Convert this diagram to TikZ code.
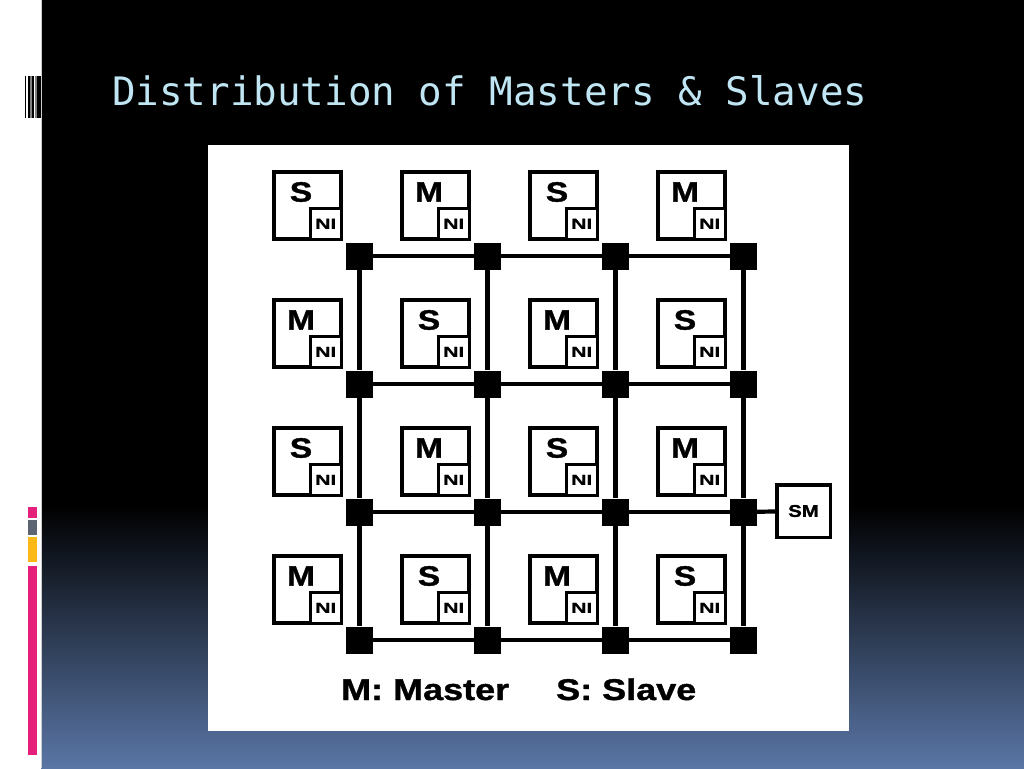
\documentclass[tikz,border=0pt]{standalone}
\usepackage{fontspec}
\setmainfont{Liberation Sans}
\newfontfamily\widefont[FakeStretch=1.2, BoldFeatures={FakeBold=1.2}]{Liberation Sans}
\newfontfamily\nifont[FakeStretch=1.45, BoldFeatures={FakeBold=1}]{Liberation Sans}
\newfontfamily\titlefont{DejaVu Sans Mono}
\usetikzlibrary{calc}
\definecolor{titleblue}{HTML}{C0E6F4}
\definecolor{slideblue}{HTML}{5A76A6}
\definecolor{barpink}{HTML}{E4207A}
\definecolor{bargray}{HTML}{5B6470}
\definecolor{baryellow}{HTML}{FBB917}
\tikzset{
  tilebox/.style={draw, line width=3.8pt, minimum size=67pt, inner sep=0pt},
  nibox/.style={draw, fill=white, line width=3.2pt, minimum size=31pt, inner sep=0pt,
    font=\nifont\bfseries\fontsize{14.5}{14.5}\selectfont},
  letter/.style={inner sep=0pt, font=\widefont\bfseries\fontsize{28}{28}\selectfont},
  router/.style={fill=black, minimum size=27pt, inner sep=0pt},
  link/.style={line width=4.2pt},
}
\begin{document}
\begin{tikzpicture}[x=1pt, y=-1pt]
  % Define the tile: name, centre, role letter
  \def\tile#1(#2,#3)#4{
    \node[tilebox] (t#1) at (#2,#3) {};
    \node[nibox, anchor=south east] (ni#1) at (t#1.south east) {NI};
    \node[letter] (l#1) at ($(t#1.center)+(-6.5,-13.5)$) {#4};
  }

  % Draw the slide background
  \useasboundingbox (0,0) rectangle (1024,768);
  \fill[white] (0,0) rectangle (41,768);
  \fill[black] (41,0) rectangle (1024,506);
  \shade[top color=black, bottom color=slideblue] (41,505) rectangle (1024,768);
  \draw[gray!40, line width=0.8pt] (41,0) -- (41,768);

  % Draw the barcode and the colour bars
  \fill[black] (25,76) rectangle (26,118);
  \fill[black] (28,76) rectangle (29.5,118);
  \fill[gray] (30,76) rectangle (31.7,118);
  \fill[black] (32,76) rectangle (34.3,118);
  \fill[gray] (34.7,76) rectangle (36.7,118);
  \fill[black] (37,76) rectangle (41,118);
  \fill[barpink] (28,507) rectangle (37,518);
  \fill[bargray] (28,520) rectangle (37,535);
  \fill[baryellow] (28,537) rectangle (37,562);
  \fill[barpink] (28,566) rectangle (37,755);

  % Draw the title
  \node[anchor=base west, inner sep=0pt, text=titleblue,
    font=\titlefont\fontsize{39.2}{40}\selectfont] (title) at (112,105)
    {Distribution of Masters \& Slaves};

  % Draw the white panel
  \fill[white] (208,145) rectangle (849,731);

  % Draw the tiles
  \tile11(307.5,205.5){S}
  \tile12(435.5,205.5){M}
  \tile13(563.5,205.5){S}
  \tile14(691.5,205.5){M}
  \tile21(307.5,333.5){M}
  \tile22(435.5,333.5){S}
  \tile23(563.5,333.5){M}
  \tile24(691.5,333.5){S}
  \tile31(307.5,461.5){S}
  \tile32(435.5,461.5){M}
  \tile33(563.5,461.5){S}
  \tile34(691.5,461.5){M}
  \tile41(307.5,589.5){M}
  \tile42(435.5,589.5){S}
  \tile43(563.5,589.5){M}
  \tile44(691.5,589.5){S}

  % Draw the routers
  \node[router] (r11) at (359.5,256) {};
  \node[router] (r12) at (487.5,256) {};
  \node[router] (r13) at (615.5,256) {};
  \node[router] (r14) at (743.5,256) {};
  \node[router] (r21) at (359.5,384) {};
  \node[router] (r22) at (487.5,384) {};
  \node[router] (r23) at (615.5,384) {};
  \node[router] (r24) at (743.5,384) {};
  \node[router] (r31) at (359.5,512) {};
  \node[router] (r32) at (487.5,512) {};
  \node[router] (r33) at (615.5,512) {};
  \node[router] (r34) at (743.5,512) {};
  \node[router] (r41) at (359.5,640) {};
  \node[router] (r42) at (487.5,640) {};
  \node[router] (r43) at (615.5,640) {};
  \node[router] (r44) at (743.5,640) {};

  % Draw the links of the mesh
  \draw[link] (r11) -- (r12) -- (r13) -- (r14);
  \draw[link] (r21) -- (r22) -- (r23) -- (r24);
  \draw[link] (r31) -- (r32) -- (r33) -- (r34);
  \draw[link] (r41) -- (r42) -- (r43) -- (r44);
  \draw[link] (r11) -- (r21) -- (r31) -- (r41);
  \draw[link] (r12) -- (r22) -- (r32) -- (r42);
  \draw[link] (r13) -- (r23) -- (r33) -- (r43);
  \draw[link] (r14) -- (r24) -- (r34) -- (r44);

  % Draw the shared memory
  \node[draw, line width=3.5pt, minimum width=53.5pt, minimum height=52.5pt, inner sep=0pt,
    font=\widefont\bfseries\fontsize{17}{17}\selectfont] (sm) at (803.5,511) {SM};
  \draw[link] (r34) -- (sm);

  % Draw the legend
  \node[anchor=base west, inner sep=0pt, font=\widefont\bfseries\fontsize{30}{30}\selectfont]
    (legm) at (341,700) {M: Master};
  \node[anchor=base west, inner sep=0pt, font=\widefont\bfseries\fontsize{30}{30}\selectfont]
    (legs) at (556,700) {S: Slave};
\end{tikzpicture}
\end{document}
